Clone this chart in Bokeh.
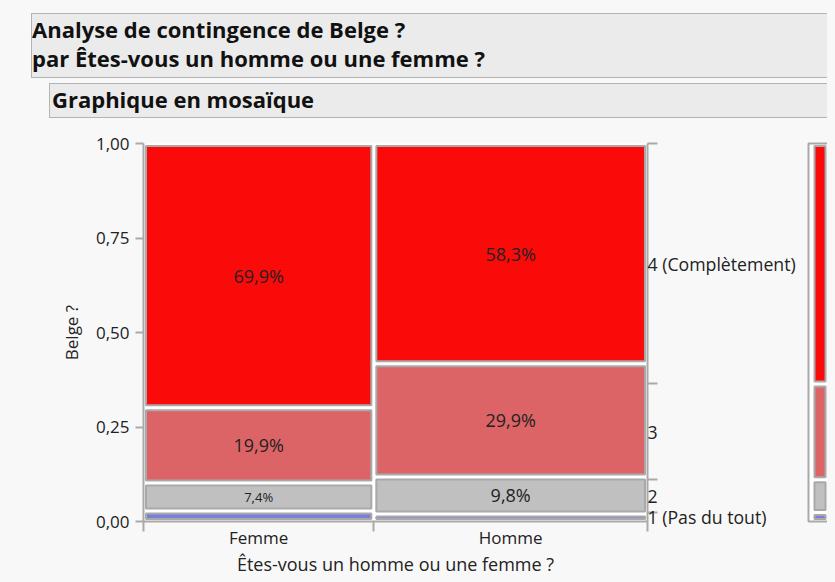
from bokeh.plotting import figure
from bokeh.models import Range1d, LinearAxis, FixedTicker, Div, ColumnDataSource
from bokeh.layouts import column, row
from bokeh.embed import file_html
from bokeh.resources import INLINE
from bokeh.core.properties import value

# ---------------- data ----------------
title_line1 = "Analyse de contingence de Belge ?"
title_line2 = "par Êtes-vous un homme ou une femme ?"
subtitle = "Graphique en mosaïque"
x_title = "Êtes-vous un homme ou une femme ?"
y_title = "Belge ?"

groups = ["Femme", "Homme"]
group_share = [0.457, 0.543]                      # column widths (share of respondents)
levels = ["1 (Pas du tout)", "2", "3", "4 (Complètement)"]
femme_pct = [2.8, 7.4, 19.9, 69.9]
homme_pct = [2.0, 9.8, 29.9, 58.3]
level_colors = ["#7b7fdc", "#c0c0c0", "#dd6466", "#fb0a0a"]
y_ticks = [0.0, 0.25, 0.5, 0.75, 1.0]
y_tick_labels = ["0,00", "0,25", "0,50", "0,75", "1,00"]

# ---------------- style / geometry ----------------
BG = "#f8f8f8"
GRAY = "#a9a9a9"
TXT = "#222222"
FONT = "Open Sans"
FRAME_W, FRAME_H = 504, 378
ML, MR, MT, MB = 135, 159, 25, 62
GAP = 2.5

cols = [femme_pct, homme_pct]
x_edges = [0.0]
for s in group_share:
    x_edges.append(x_edges[-1] + s)

gx = GAP / FRAME_W
gy = GAP / FRAME_H
cells = dict(left=[], right=[], bottom=[], top=[], color=[])
labs = dict(x=[], y=[], text=[], size=[])
for j, pcts in enumerate(cols):
    x0, x1 = x_edges[j], x_edges[j + 1]
    y = 0.0
    for i, v in enumerate(pcts):
        f = v / 100.0
        cells["left"].append(x0 + gx)
        cells["right"].append(x1 - gx)
        cells["bottom"].append(y + gy)
        cells["top"].append(y + f - gy)
        cells["color"].append(level_colors[i])
        hpx = f * FRAME_H
        if hpx > 20:
            labs["x"].append((x0 + x1) / 2)
            labs["y"].append(y + f / 2)
            labs["text"].append(f"{v:.1f}%".replace(".", ","))
            labs["size"].append("13px" if hpx < 32 else "18px")
        y += f

# marginal distribution
marg = [sum(group_share[j] * cols[j][i] / 100.0 for j in range(len(cols))) for i in range(len(levels))]
m_bounds, m_centers = [], []
acc = 0.0
for m in marg:
    m_centers.append(acc + m / 2)
    acc += m
    m_bounds.append(acc)

# ---------------- main mosaic ----------------
p = figure(width=ML + FRAME_W + MR, height=MT + FRAME_H + MB,
           x_range=Range1d(0, 1), y_range=Range1d(0, 1),
           output_backend="svg", toolbar_location=None,
           min_border_left=ML, min_border_right=MR, min_border_top=MT, min_border_bottom=MB,
           background_fill_color="white", border_fill_color=BG,
           outline_line_color=None, x_axis_type=None, y_axis_type=None)
p.grid.visible = False

p.quad(left="left", right="right", bottom="bottom", top="top", fill_color="color",
       line_color=GRAY, line_width=2, source=ColumnDataSource(cells))
p.text(x="x", y="y", text="text", text_font_size="size", source=ColumnDataSource(labs),
       text_align="center", text_baseline="middle", text_font=value(FONT), text_color=TXT)

def style_axis(ax):
    ax.axis_line_color = GRAY
    ax.axis_line_width = 2
    ax.major_tick_line_color = GRAY
    ax.major_tick_line_width = 2
    ax.minor_tick_line_color = GRAY
    ax.minor_tick_line_width = 2
    ax.major_label_text_font = FONT
    ax.major_label_text_font_size = "17px"
    ax.major_label_text_color = TXT
    ax.axis_label_text_font = FONT
    ax.axis_label_text_font_size = "17px"
    ax.axis_label_text_font_style = "normal"
    ax.axis_label_text_color = TXT

yax = LinearAxis(ticker=FixedTicker(ticks=y_ticks),
                 major_label_overrides=dict(zip(y_ticks, y_tick_labels)),
                 axis_label=y_title)
style_axis(yax)
yax.major_tick_out = 8
yax.major_tick_in = 0
yax.minor_tick_line_color = None
yax.major_label_standoff = 6
yax.axis_label_standoff = 10
p.add_layout(yax, "left")

x_centers = [(x_edges[j] + x_edges[j + 1]) / 2 for j in range(len(groups))]
xax = LinearAxis(ticker=FixedTicker(ticks=x_centers, minor_ticks=x_edges),
                 major_label_overrides=dict(zip(x_centers, groups)),
                 axis_label=x_title)
style_axis(xax)
xax.axis_label_text_font_size = "18px"
xax.major_tick_out = 0
xax.major_tick_in = 0
xax.minor_tick_out = 10
xax.minor_tick_in = 0
xax.major_label_standoff = -6
xax.axis_label_standoff = 0
p.add_layout(xax, "below")

rax = LinearAxis(ticker=FixedTicker(ticks=m_centers, minor_ticks=m_bounds),
                 major_label_overrides=dict(zip(m_centers, levels)))
style_axis(rax)
rax.major_label_text_font_size = "17.7px"
rax.major_tick_out = 0
rax.major_tick_in = 0
rax.minor_tick_out = 10
rax.minor_tick_in = 0
rax.major_label_standoff = -10
p.add_layout(rax, "right")

# ---------------- marginal bar ----------------
mcells = dict(bottom=[], top=[], color=[])
acc = 0.0
for i, m in enumerate(marg):
    mcells["bottom"].append(acc + gy)
    mcells["top"].append(acc + m - gy)
    mcells["color"].append(level_colors[i])
    acc += m

pm = figure(width=29, height=MT + FRAME_H + MB,
            x_range=Range1d(0, 1), y_range=Range1d(0, 1),
            output_backend="svg", toolbar_location=None,
            min_border_left=2, min_border_right=3, min_border_top=MT, min_border_bottom=MB,
            background_fill_color="white", border_fill_color=BG,
            outline_line_color=GRAY, outline_line_width=2,
            x_axis_type=None, y_axis_type=None)
pm.grid.visible = False
pm.quad(left=0.25, right=0.71, bottom="bottom", top="top", fill_color="color",
        line_color=GRAY, line_width=2, source=ColumnDataSource(mcells))

# ---------------- header ----------------
header_html = f"""
<div style="position:relative;width:827px;height:110px;font-family:'Open Sans';color:#111;">
  <div style="position:absolute;left:23px;top:5px;width:804px;height:65px;box-sizing:border-box;background:#ebebeb;border:1px solid #b4b4b4;border-right:none;">
    <div style="position:absolute;left:0px;top:1px;font-weight:700;font-size:22px;line-height:29px;white-space:nowrap;">{title_line1}<br>{title_line2}</div>
  </div>
  <div style="position:absolute;left:41px;top:75px;width:786px;height:35px;box-sizing:border-box;background:#ebebeb;border:1px solid #b4b4b4;border-right:none;">
    <div style="position:absolute;left:2px;top:1px;font-weight:700;font-size:22px;line-height:29px;white-space:nowrap;">{subtitle}</div>
  </div>
</div>
"""
header = Div(text=header_html, width=827, height=110, margin=(0, 0, 0, 0))

layout = column(header, row(p, pm, spacing=0), spacing=0)

html = file_html(layout, INLINE)
html = html.replace("</head>",
                    f"<style>html,body{{background:{BG};overflow:hidden;}} body{{margin:8px;}}</style></head>", 1)
open("out.html", "w").write(html)
